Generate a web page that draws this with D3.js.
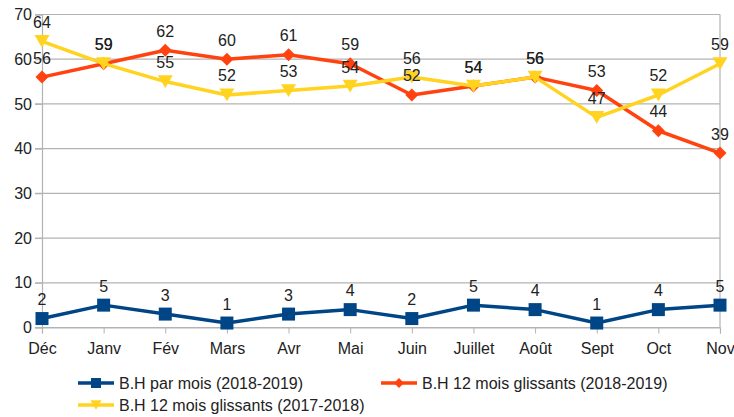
<!DOCTYPE html>
<html>
<head>
<meta charset="utf-8">
<script src="https://cdn.jsdelivr.net/npm/d3@7"></script>
<style>
  html, body { margin: 0; padding: 0; background: #fff; }
  svg { display: block; font-family: "Liberation Sans", Arial, sans-serif; }
</style>
</head>
<body>
<svg id="chart" width="734" height="417"></svg>
<script>
const categories = ["Déc", "Janv", "Fév", "Mars", "Avr", "Mai", "Juin", "Juillet", "Août", "Sept", "Oct", "Nov"];
const parMois1819 = [2, 5, 3, 1, 3, 4, 2, 5, 4, 1, 4, 5];
const glissants1819 = [56, 59, 62, 60, 61, 59, 52, 54, 56, 53, 44, 39];
const glissants1718 = [64, 59, 55, 52, 53, 54, 56, 54, 56, 47, 52, 59];
const yTicks = [0, 10, 20, 30, 40, 50, 60, 70];
const seriesNames = ["B.H par mois (2018-2019)", "B.H 12 mois glissants (2018-2019)", "B.H 12 mois glissants (2017-2018)"];

const series = [
  { name: seriesNames[0], values: parMois1819, color: "#004586", marker: "square" },
  { name: seriesNames[1], values: glissants1819, color: "#ff420e", marker: "diamond" },
  { name: seriesNames[2], values: glissants1718, color: "#ffd320", marker: "triangle" }
];

const svg = d3.select("#chart");
const pLeft = 42, pRight = 720, pTop = 14.5, pBottom = 327.5;
const textColor = "#222";
const gridColor = "#b3b3b3";

const x = d3.scalePoint().domain(categories).range([pLeft, pRight]);
const y = d3.scaleLinear().domain([0, 70]).range([pBottom, pTop]);

// gridlines
svg.append("g").selectAll("line").data(yTicks).join("line")
  .attr("x1", pLeft - 7).attr("x2", pRight)
  .attr("y1", d => y(d)).attr("y2", d => y(d))
  .attr("stroke", gridColor).attr("stroke-width", 1.2);

// right border
svg.append("line").attr("x1", pRight).attr("x2", pRight).attr("y1", pTop).attr("y2", pBottom)
  .attr("stroke", gridColor).attr("stroke-width", 1.2);

// y axis
const yAxis = svg.append("g").attr("transform", `translate(${pLeft},0)`)
  .call(d3.axisLeft(y).tickValues(yTicks).tickSize(7).tickPadding(3));
yAxis.select(".domain").attr("stroke", gridColor).attr("stroke-width", 1.2);
yAxis.selectAll(".tick line").attr("stroke", gridColor);
yAxis.selectAll("text").attr("fill", textColor).style("font-size", "16px")
  .attr("font-family", "Liberation Sans, Arial, sans-serif");

// x axis
const xAxis = svg.append("g").attr("transform", `translate(0,${pBottom})`)
  .call(d3.axisBottom(x).tickSize(6).tickPadding(9));
xAxis.select(".domain").attr("stroke", gridColor).attr("stroke-width", 1.2);
xAxis.selectAll(".tick line").attr("stroke", gridColor);
xAxis.selectAll("text").attr("fill", textColor).style("font-size", "16px")
  .attr("font-family", "Liberation Sans, Arial, sans-serif");

function markerPath(type, size) {
  const h = size / 2;
  if (type === "square") return `M${-h},${-h}H${h}V${h}H${-h}Z`;
  if (type === "diamond") return `M0,${-h}L${h},0L0,${h}L${-h},0Z`;
  return `M${-h},${-h * 0.85}H${h}L0,${h * 0.85}Z`;
}
const markerSize = { square: 13, diamond: 13, triangle: 15 };

const line = d3.line().x((d, i) => x(categories[i])).y(d => y(d));

[0, 1, 2].forEach(si => {
  const s = series[si];
  const g = svg.append("g");
  g.append("path").datum(s.values).attr("d", line)
    .attr("fill", "none").attr("stroke", s.color).attr("stroke-width", 3.5)
    .attr("stroke-linejoin", "round");
  g.selectAll("path.m").data(s.values).join("path").attr("class", "m")
    .attr("transform", (d, i) => `translate(${x(categories[i])},${y(d)})`)
    .attr("d", markerPath(s.marker, markerSize[s.marker]))
    .attr("fill", s.color);
});

// labels
series.forEach(s => {
  svg.append("g").selectAll("text").data(s.values).join("text")
    .attr("x", (d, i) => x(categories[i]))
    .attr("y", d => y(d) - 13.5)
    .attr("text-anchor", "middle")
    .attr("fill", textColor)
    .style("font-size", "16px")
    .text(d => d);
});

// legend
const legendItems = [
  { s: series[0], x0: 78, y0: 383 },
  { s: series[1], x0: 381, y0: 383 },
  { s: series[2], x0: 78, y0: 405 }
];
legendItems.forEach(it => {
  const g = svg.append("g");
  g.append("line").attr("x1", it.x0).attr("x2", it.x0 + 36)
    .attr("y1", it.y0).attr("y2", it.y0)
    .attr("stroke", it.s.color).attr("stroke-width", 3.5);
  g.append("path").attr("transform", `translate(${it.x0 + 18},${it.y0})`)
    .attr("d", markerPath(it.s.marker, it.s.marker === "triangle" ? 11 : 10))
    .attr("fill", it.s.color);
  g.append("text").attr("x", it.x0 + 41).attr("y", it.y0 + 5.5)
    .attr("fill", textColor).style("font-size", "16px")
    .text(it.s.name);
});
</script>
</body>
</html>
